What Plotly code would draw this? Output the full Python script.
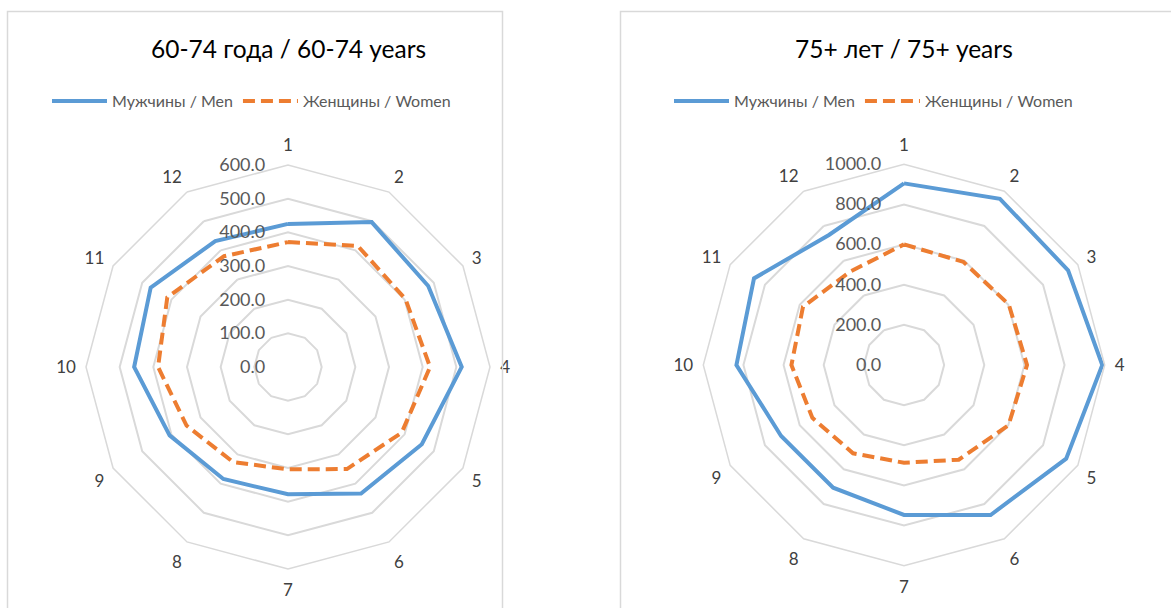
import plotly.graph_objects as go

# Month / category labels around the radar
categories = [str(i) for i in range(1, 13)]

# 60-74 years
men_60_74 = [425, 497, 481, 516, 459, 434, 378, 384, 406, 457, 471, 432]
women_60_74 = [371, 415, 403, 422, 390, 350, 304, 326, 348, 386, 414, 380]

# 75+ years
men_75 = [905, 956, 944, 988, 933, 863, 747, 706, 707, 835, 863, 748]
women_75 = [601, 593, 603, 613, 601, 545, 487, 508, 527, 561, 581, 537]

titles = ["60-74 года / 60-74 years", "75+ лет / 75+ years"]
men_name = "Мужчины / Men"
women_name = "Женщины / Women"

BLUE = "#5B9BD5"
ORANGE = "#ED7D31"
GRID = "#D9D9D9"
FONT = "Lato"
W, H = 1171, 608


def closed(vals):
    return vals + vals[:1]


theta = closed(categories)

fig = go.Figure()

panels = [
    dict(polar="polar", legend="legend", men=men_60_74, women=women_60_74),
    dict(polar="polar2", legend="legend2", men=men_75, women=women_75),
]
for p in panels:
    fig.add_trace(go.Scatterpolar(
        r=closed(p["men"]), theta=theta, subplot=p["polar"], legend=p["legend"],
        name=men_name, mode="lines", line=dict(color=BLUE, width=4),
    ))
    fig.add_trace(go.Scatterpolar(
        r=closed(p["women"]), theta=theta, subplot=p["polar"], legend=p["legend"],
        name=women_name, mode="lines",
        line=dict(color=ORANGE, width=4, dash="12px,6px"),
    ))


def px_domain(cx, cy, r):
    return dict(
        x=[(cx - r) / W, (cx + r) / W],
        y=[(H - cy - r) / H, (H - cy + r) / H],
    )


def polar_layout(cx, cy, r, rmax, dt):
    return dict(
        domain=px_domain(cx, cy, r),
        gridshape="linear",
        bgcolor="white",
        radialaxis=dict(
            range=[0, rmax], dtick=dt, tickformat=".1f", angle=90,
            side="counterclockwise", showline=False,
            ticks="outside", ticklen=16, tickcolor="rgba(0,0,0,0)",
            tickangle=90,
            gridcolor=GRID, gridwidth=1.5,
            tickfont=dict(family=FONT, size=18, color="#595959"),
        ),
        angularaxis=dict(
            direction="clockwise", rotation=90, showgrid=False,
            showline=True, linecolor=GRID, linewidth=1.5,
            ticks="outside", ticklen=6, tickcolor="rgba(0,0,0,0)",
            tickfont=dict(family=FONT, size=17, color="#404040"),
        ),
    )


legend_common = dict(
    orientation="h", xanchor="left", yanchor="middle",
    font=dict(family=FONT, size=16, color="#595959"),
    bgcolor="rgba(0,0,0,0)", itemwidth=55, traceorder="normal",
)

fig.update_layout(
    width=W, height=H,
    margin=dict(l=0, r=0, t=0, b=0),
    paper_bgcolor="white",
    plot_bgcolor="white",
    polar=polar_layout(288, 367, 202, 600, 100),
    polar2=polar_layout(904, 365, 200.7, 1000, 200),
    legend=dict(x=47 / W, y=1 - 101 / H, **legend_common),
    legend2=dict(x=669 / W, y=1 - 101 / H, **legend_common),
    annotations=[
        dict(text=titles[0], x=288 / W, y=1 - 48 / H, xref="paper", yref="paper",
             xanchor="center", yanchor="middle", showarrow=False,
             font=dict(family=FONT, size=24.5, color="#000000")),
        dict(text=titles[1], x=904 / W, y=1 - 48 / H, xref="paper", yref="paper",
             xanchor="center", yanchor="middle", showarrow=False,
             font=dict(family=FONT, size=24.5, color="#000000")),
    ],
    shapes=[
        dict(type="rect", xref="paper", yref="paper",
             x0=7.5 / W, x1=502.5 / W, y0=-0.05, y1=1 - 11.5 / H,
             line=dict(color=GRID, width=1.5)),
        dict(type="rect", xref="paper", yref="paper",
             x0=620.5 / W, x1=1.05, y0=-0.05, y1=1 - 11.5 / H,
             line=dict(color=GRID, width=1.5)),
    ],
)

fig.write_html("out.html")
